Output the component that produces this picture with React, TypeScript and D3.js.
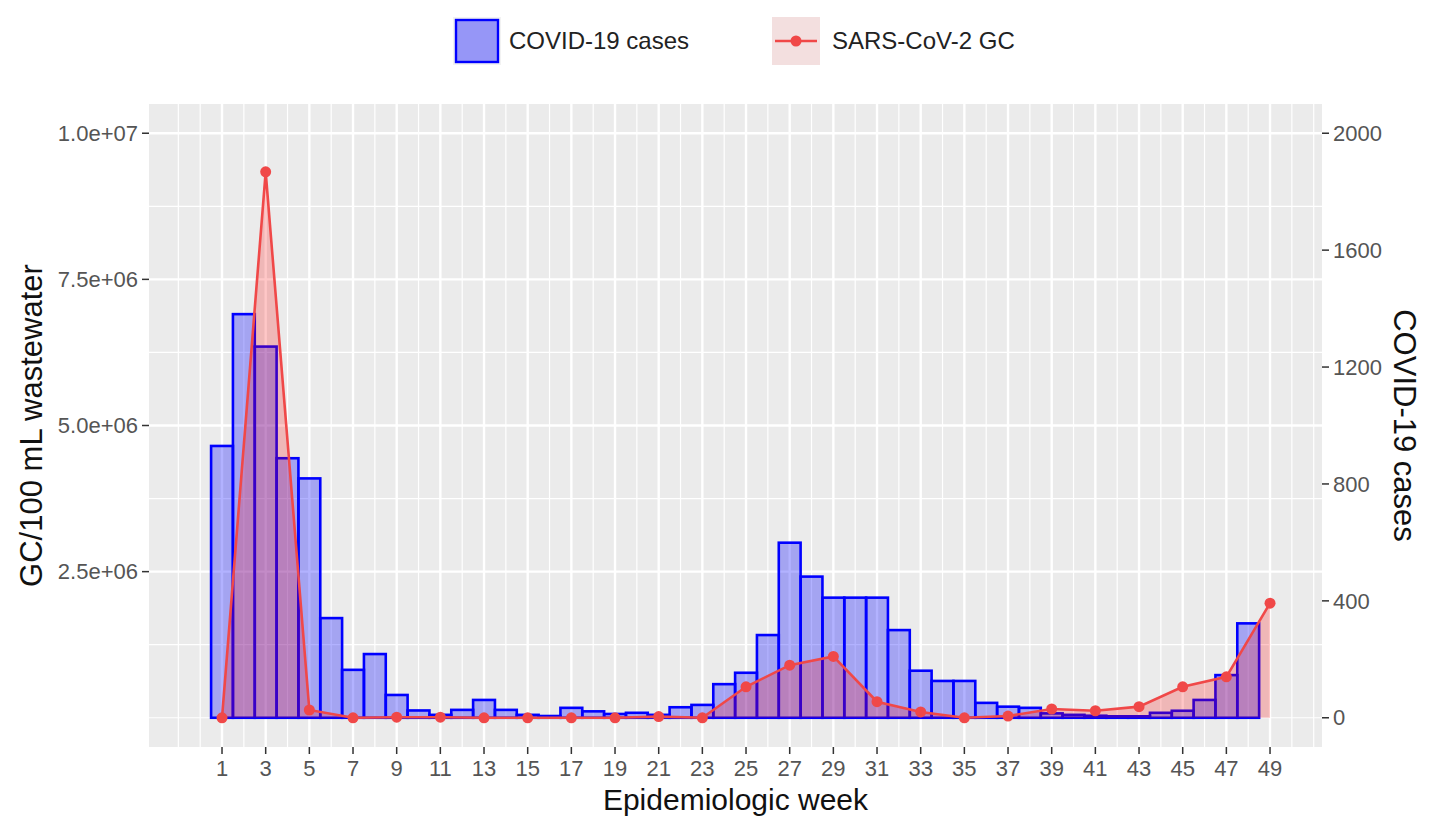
import React from "react";
import * as d3 from "d3";

// ---- Data ----
const caseWeeks = [1,2,3,4,5,6,7,8,9,10,11,12,13,14,15,16,17,18,19,20,21,22,23,24,25,26,27,28,29,30,31,32,33,34,35,36,37,38,39,40,41,42,43,44,45,46,47,48];
const cases = [930,1381,1270,888,819,341,164,218,78,25,10,27,61,27,10,6,34,22,13,17,10,36,44,115,154,283,599,483,411,411,411,300,161,126,126,51,38,34,15,10,7,5,5,17,24,61,146,323];

const gcWeeks = [1,3,5,7,9,11,13,15,17,19,21,23,25,27,29,31,33,35,37,39,41,43,45,47,49];
const gc = [0,9.34e6,1.33e5,0,1e4,1e4,0,0,0,0,2e4,0,5.3e5,9.0e5,1.05e6,2.75e5,1.0e5,0,3e4,1.5e5,1.2e5,1.9e5,5.3e5,7.0e5,1.96e6];

const xTicks = [1,3,5,7,9,11,13,15,17,19,21,23,25,27,29,31,33,35,37,39,41,43,45,47,49];
const leftTicks = [2.5e6, 5e6, 7.5e6, 1e7];
const leftTickLabels = ["2.5e+06", "5.0e+06", "7.5e+06", "1.0e+07"];
const rightTicks = [0, 400, 800, 1200, 1600, 2000];
const rightTickLabels = ["0", "400", "800", "1200", "1600", "2000"];

const W = 1432, H = 820;
const P = { left: 149, right: 1322, top: 104, bottom: 747 };
const FONT = "'Liberation Sans', Arial, Helvetica, sans-serif";

export default function App() {
  const x = d3.scaleLinear().domain([-2.344, 51.38]).range([P.left, P.right]);
  const y = d3.scaleLinear().domain([-5e5, 1.05e7]).range([P.bottom, P.top]);
  const yc = d3.scaleLinear().domain([-100, 2100]).range([P.bottom, P.top]);

  // grid
  const xMinorEven = d3.range(-1, 52).filter((v) => !xTicks.includes(v)).filter((v) => x(v) >= P.left && x(v) <= P.right);
  const yMinor = [0, 1.25e6, 3.75e6, 6.25e6, 8.75e6];

  const pts = gcWeeks.map((w, i) => ({ w, v: gc[i] }));
  const area = d3.area<{ w: number; v: number }>().x((d) => x(d.w)).y0(y(0)).y1((d) => y(d.v));
  const line = d3.line<{ w: number; v: number }>().x((d) => x(d.w)).y((d) => y(d.v));

  const red = "#f04848";

  return (
    <svg width={W} height={H} style={{ position: "absolute", left: 0, top: 0, background: "#fff" }} fontFamily={FONT}>
      <rect x={0} y={0} width={W} height={H} fill="#fff" />
      {/* panel */}
      <rect x={P.left} y={P.top} width={P.right - P.left} height={P.bottom - P.top} fill="#EBEBEB" />
      {yMinor.map((v) => (
        <line key={"ym" + v} x1={P.left} x2={P.right} y1={y(v)} y2={y(v)} stroke="#fff" strokeWidth={1.2} />
      ))}
      {xMinorEven.map((v) => (
        <line key={"xm" + v} x1={x(v)} x2={x(v)} y1={P.top} y2={P.bottom} stroke="#fff" strokeWidth={1.2} />
      ))}
      {leftTicks.map((v) => (
        <line key={"yM" + v} x1={P.left} x2={P.right} y1={y(v)} y2={y(v)} stroke="#fff" strokeWidth={2.4} />
      ))}
      {xTicks.map((v) => (
        <line key={"xM" + v} x1={x(v)} x2={x(v)} y1={P.top} y2={P.bottom} stroke="#fff" strokeWidth={2.4} />
      ))}

      {/* bars */}
      {caseWeeks.map((w, i) => (
        <rect
          key={"b" + w}
          x={x(w - 0.5)}
          width={x(w + 0.5) - x(w - 0.5)}
          y={yc(cases[i])}
          height={yc(0) - yc(cases[i])}
          fill="rgba(0,0,255,0.3)"
          stroke="#0000ff"
          strokeWidth={2.6}
        />
      ))}

      {/* area + line + points */}
      <path d={area(pts) || ""} fill="rgba(255,0,0,0.22)" stroke="none" />
      <path d={line(pts) || ""} fill="none" stroke={red} strokeWidth={2.6} />
      {pts.map((d) => (
        <circle key={"p" + d.w} cx={x(d.w)} cy={y(d.v)} r={5.5} fill={red} />
      ))}

      {/* left axis */}
      {leftTicks.map((v, i) => (
        <g key={"lt" + v}>
          <line x1={P.left - 7} x2={P.left} y1={y(v)} y2={y(v)} stroke="#333" strokeWidth={1.5} />
          <text x={P.left - 11} y={y(v)} dy="0.35em" textAnchor="end" fontSize={22} fill="#555">
            {leftTickLabels[i]}
          </text>
        </g>
      ))}
      {/* right axis */}
      {rightTicks.map((v, i) => (
        <g key={"rt" + v}>
          <line x1={P.right} x2={P.right + 7} y1={yc(v)} y2={yc(v)} stroke="#333" strokeWidth={1.5} />
          <text x={P.right + 11} y={yc(v)} dy="0.35em" textAnchor="start" fontSize={22} fill="#555">
            {rightTickLabels[i]}
          </text>
        </g>
      ))}
      {/* bottom axis */}
      {xTicks.map((v) => (
        <g key={"bt" + v}>
          <line x1={x(v)} x2={x(v)} y1={P.bottom} y2={P.bottom + 7} stroke="#333" strokeWidth={1.5} />
          <text x={x(v)} y={P.bottom + 29} textAnchor="middle" fontSize={22} fill="#555">
            {v}
          </text>
        </g>
      ))}

      {/* axis titles */}
      <text x={(P.left + P.right) / 2} y={810} textAnchor="middle" fontSize={30} fill="#111">
        Epidemiologic week
      </text>
      <text
        transform={`translate(42,${(P.top + P.bottom) / 2}) rotate(-90)`}
        textAnchor="middle"
        fontSize={31}
        fill="#111"
      >
        GC/100 mL wastewater
      </text>
      <text
        transform={`translate(1394,${(P.top + P.bottom) / 2}) rotate(90)`}
        textAnchor="middle"
        fontSize={31}
        fill="#111"
      >
        COVID-19 cases
      </text>

      {/* legend */}
      <g>
        <rect x={453} y={17} width={48} height={48} fill="#f2f2f2" />
        <rect x={456} y={20} width={42} height={42} fill="rgba(0,0,255,0.38)" stroke="#0000ff" strokeWidth={2.4} />
        <text x={509} y={49} fontSize={24} fill="#222">COVID-19 cases</text>
        <rect x={772} y={17} width={48} height={48} fill="#f2f2f2" />
        <rect x={772} y={17} width={48} height={48} fill="rgba(255,0,0,0.08)" />
        <line x1={775} x2={817} y1={41} y2={41} stroke={red} strokeWidth={2.6} />
        <circle cx={796} cy={41} r={5.5} fill={red} />
        <text x={832} y={49} fontSize={24} fill="#222">SARS-CoV-2 GC</text>
      </g>
    </svg>
  );
}
